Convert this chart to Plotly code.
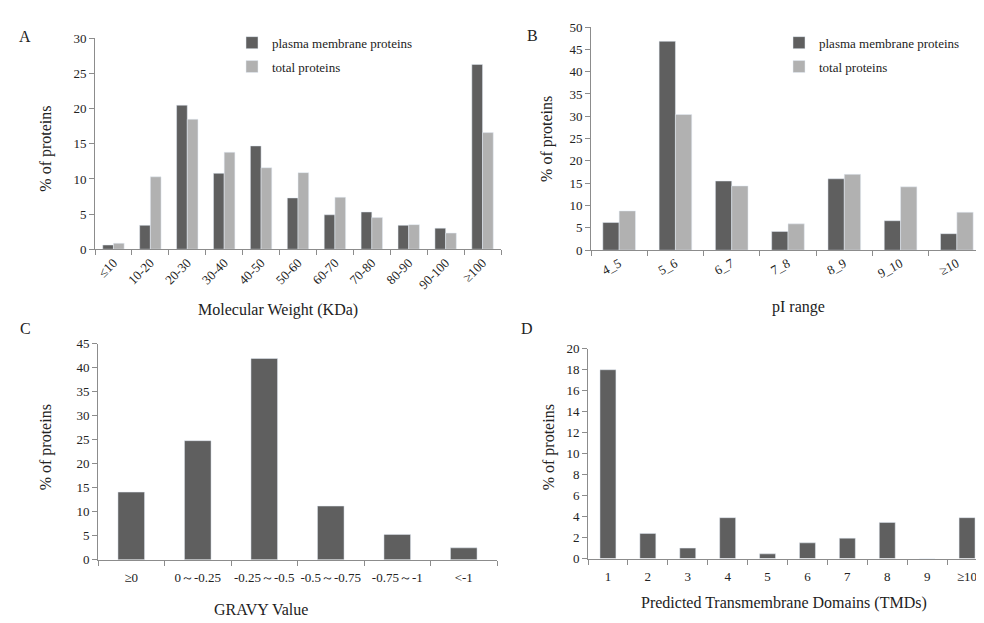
import plotly.graph_objects as go

# ---- data ----
mw_cats = ["≤10", "10-20", "20-30", "30-40", "40-50", "50-60", "60-70", "70-80", "80-90", "90-100", "≥100"]
mw_pm = [0.6, 3.4, 20.5, 10.8, 14.7, 7.3, 4.9, 5.3, 3.4, 3.0, 26.3]
mw_total = [0.85, 10.3, 18.5, 13.8, 11.6, 10.9, 7.4, 4.5, 3.5, 2.3, 16.6]

pi_cats = ["4_5", "5_6", "6_7", "7_8", "8_9", "9_10", "≥10"]
pi_pm = [6.2, 46.8, 15.5, 4.2, 16.0, 6.6, 3.7]
pi_total = [8.8, 30.4, 14.4, 5.9, 17.0, 14.2, 8.5]

gravy_cats = ["≥0", "0～-0.25", "-0.25～-0.5", "-0.5～-0.75", "-0.75～-1", "<-1"]
gravy_pm = [14.1, 24.8, 41.9, 11.2, 5.3, 2.5]

tmd_cats = ["1", "2", "3", "4", "5", "6", "7", "8", "9", "≥10"]
tmd_pm = [18.0, 2.4, 1.0, 3.9, 0.45, 1.5, 1.95, 3.45, 0.0, 3.9]

DARK = "#5f5f5f"
LIGHT = "#b1b1b1"
AX = "#8c8c8c"
FONT = "Liberation Serif, Times New Roman, serif"
W, H = 984, 623

fig = go.Figure()

fig.add_trace(go.Bar(x=mw_cats, y=mw_pm, marker_color=DARK, name="plasma membrane proteins",
                     xaxis="x", yaxis="y", legend="legend", legendgroup="a1"))
fig.add_trace(go.Bar(x=mw_cats, y=mw_total, marker_color=LIGHT, name="total proteins",
                     xaxis="x", yaxis="y", legend="legend", legendgroup="a2"))
fig.add_trace(go.Bar(x=pi_cats, y=pi_pm, marker_color=DARK, name="plasma membrane proteins",
                     xaxis="x2", yaxis="y2", legend="legend2", legendgroup="b1"))
fig.add_trace(go.Bar(x=pi_cats, y=pi_total, marker_color=LIGHT, name="total proteins",
                     xaxis="x2", yaxis="y2", legend="legend2", legendgroup="b2"))
fig.add_trace(go.Bar(x=gravy_cats, y=gravy_pm, marker_color=DARK, showlegend=False,
                     xaxis="x3", yaxis="y3", width=0.4))
fig.add_trace(go.Bar(x=tmd_cats, y=tmd_pm, marker_color=DARK, showlegend=False,
                     xaxis="x4", yaxis="y4", width=0.4))


def px_x(a, b):
    return [a / W, b / W]


def px_y(top, bottom):
    return [(H - bottom) / H, (H - top) / H]


xcommon = dict(type="category", showline=True, linecolor=AX, linewidth=1, ticks="outside",
               tickson="boundaries", ticklen=5, tickcolor=AX, showgrid=False,
               tickfont=dict(family=FONT, size=13, color="#222"))
ycommon = dict(showline=True, linecolor=AX, linewidth=1, ticks="outside", ticklen=5,
               tickcolor=AX, showgrid=False, zeroline=False,
               tickfont=dict(family=FONT, size=13, color="#222"))

fig.update_layout(
    width=W, height=H, margin=dict(l=0, r=0, t=0, b=0),
    plot_bgcolor="white", paper_bgcolor="white",
    barmode="group", bargap=0.42, bargroupgap=0,
    font=dict(family=FONT, color="#222"),
    xaxis=dict(domain=px_x(87, 493), anchor="y", tickangle=-45, **xcommon),
    yaxis=dict(domain=px_y(24, 240), anchor="x", range=[0, 30], dtick=5, **ycommon),
    xaxis2=dict(domain=px_x(583, 977), anchor="y2", tickangle=-28, **xcommon),
    yaxis2=dict(domain=px_y(12.3, 241), anchor="x2", range=[0, 50], dtick=5, **ycommon),
    xaxis3=dict(domain=px_x(90, 489), anchor="y3", tickangle=0, ticklabelstandoff=6, **xcommon),
    yaxis3=dict(domain=px_y(336.7, 558.3), anchor="x3", range=[0, 45], dtick=5, **ycommon),
    xaxis4=dict(domain=px_x(580, 979), anchor="y4", tickangle=0, ticklabelstandoff=6, **xcommon),
    yaxis4=dict(domain=px_y(342, 557), anchor="x4", range=[0, 20], dtick=2, **ycommon),
    legend=dict(x=224 / W, y=(H - 13) / H, xanchor="left", yanchor="top",
                font=dict(family=FONT, size=13, color="#222"), tracegroupgap=4,
                bgcolor="rgba(0,0,0,0)", itemwidth=30),
    legend2=dict(x=771 / W, y=(H - 13) / H, xanchor="left", yanchor="top",
                 font=dict(family=FONT, size=13, color="#222"), tracegroupgap=4,
                 bgcolor="rgba(0,0,0,0)", itemwidth=30),
)

ann = []


def add_text(text, x, y, size, angle=0):
    ann.append(dict(text=text, x=x / W, y=(H - y) / H, xref="paper", yref="paper",
                    showarrow=False, textangle=angle, xanchor="center", yanchor="middle",
                    font=dict(family=FONT, size=size, color="#222")))


add_text("A", 17, 22, 16)
add_text("B", 524, 21, 16)
add_text("C", 17, 321, 16)
add_text("D", 519, 321, 16)
add_text("% of proteins", 38, 137, 16, -90)
add_text("% of proteins", 539, 127, 16, -90)
add_text("% of proteins", 38, 443, 16, -90)
add_text("% of proteins", 541, 443, 16, -90)
add_text("Molecular Weight (KDa)", 270, 302, 16)
add_text("pI range", 790, 299, 16)
add_text("GRAVY Value", 253, 609, 16)
add_text("Predicted Transmembrane Domains (TMDs)", 776, 603, 16)
fig.update_layout(annotations=ann)

fig.write_html("out.html")
